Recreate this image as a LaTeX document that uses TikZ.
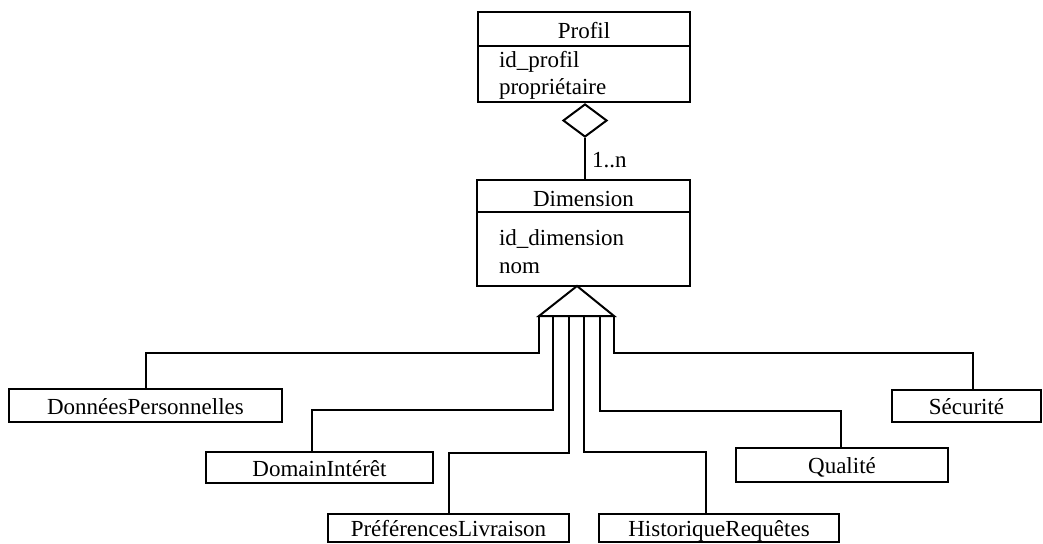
\documentclass[tikz,border=0pt]{standalone}
\usepackage{fontspec}
\setmainfont{Liberation Serif}
\usetikzlibrary{shapes.geometric}
\begin{document}
\begin{tikzpicture}[x=1pt,y=-1pt,
  every path/.style={line width=2pt, line join=miter},
  box/.style={draw, line width=2pt, rectangle, inner sep=0pt, font=\fontsize{23}{27}\selectfont, text height=17pt, text depth=0pt},
  txt/.style={inner sep=0pt, font=\fontsize{23}{27}\selectfont}]
\useasboundingbox (0,0) rectangle (1043,543);
% Profil class
\node[box, minimum width=212pt, minimum height=90pt] (profil) at (584,57) {};
\draw ([yshift=-35pt]profil.north west) -- ([yshift=-35pt]profil.north east);
\node[txt, anchor=base] (pname) at (584,38) {Profil};
\node[txt, anchor=base west] (pa1) at (498,67) {id\_profil};
\node[txt, anchor=base west] (pa2) at (498,94) {propriétaire};
% Dimension class
\node[box, minimum width=213pt, minimum height=106pt] (dim) at (583.5,233) {};
\draw ([yshift=-33pt]dim.north west) -- ([yshift=-33pt]dim.north east);
\node[txt, anchor=base] (dname) at (583.5,206) {Dimension};
\node[txt, anchor=base west] (da1) at (498,245) {id\_dimension};
\node[txt, anchor=base west] (da2) at (498,273) {nom};
% aggregation
\node[diamond, draw, line width=2pt, inner sep=0pt, minimum width=44pt, minimum height=33pt, anchor=north] (dia) at ([xshift=1pt]profil.south) {};
\draw (dia.south) -- (dia.south |- dim.north);
\node[txt, anchor=base west] (mult) at (591,167) {1..n};
% generalisation triangle
\coordinate (apex) at (577,286);
\coordinate (b1) at (539,316);
\coordinate (b2) at (553,316);
\coordinate (b3) at (569,316);
\coordinate (b4) at (584,316);
\coordinate (b5) at (600,316);
\coordinate (b6) at (614,316);
\draw (apex) -- (b6) -- (b1) -- cycle;
% subclasses
\node[box, minimum width=273pt, minimum height=33pt] (dp) at (145.5,405.5) {DonnéesPersonnelles};
\node[box, minimum width=227pt, minimum height=31pt] (di) at (319.5,467.5) {DomainIntérêt};
\node[box, minimum width=241pt, minimum height=28pt] (pl) at (448.5,527.5) {PréférencesLivraison};
\node[box, minimum width=240pt, minimum height=28pt] (hr) at (719,527.5) {HistoriqueRequêtes};
\node[box, minimum width=212pt, minimum height=34pt] (q) at (842,465) {Qualité};
\node[box, minimum width=149pt, minimum height=32pt] (s) at (966.5,406) {Sécurité};
% connectors
\draw (b1) -- ++(0,37) -| (dp.north);
\draw (b2) -- ++(0,94) -| ([xshift=-7.5pt]di.north);
\draw (b3) -- ++(0,137) -| (pl.north);
\draw (b4) -- ++(0,136) -| ([xshift=-13pt]hr.north);
\draw (b5) -- ++(0,95) -| ([xshift=-1pt]q.north);
\draw (b6) -- ++(0,37) -| ([xshift=6.5pt]s.north);
\end{tikzpicture}
\end{document}
